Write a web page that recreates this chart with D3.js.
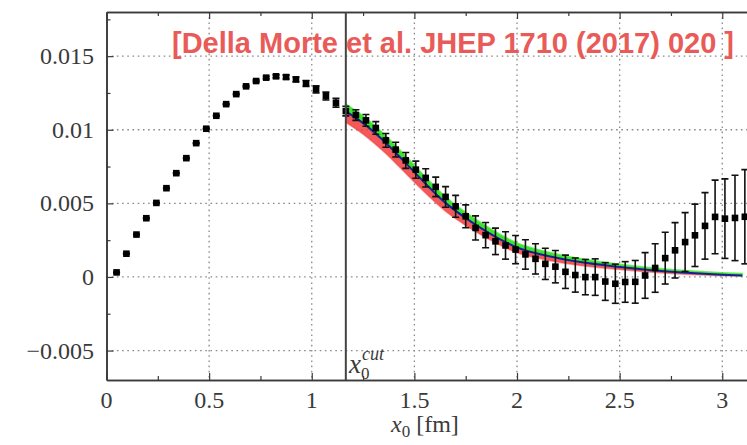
<!DOCTYPE html>
<html>
<head>
<meta charset="utf-8">
<script src="https://cdn.jsdelivr.net/npm/d3@7"></script>
<style>
    body { margin: 0; background: #fff; }
    svg { display: block; }
</style>
</head>
<body>
<svg width="747" height="445"></svg>
<script>
// lattice time slices x0 [fm] and correlator values
var x0 = [0.049, 0.097, 0.146, 0.194, 0.243, 0.292, 0.340, 0.389, 0.437, 0.486,
          0.535, 0.583, 0.632, 0.680, 0.729, 0.778, 0.826, 0.875, 0.923, 0.972,
          1.021, 1.069, 1.118, 1.166, 1.215, 1.264, 1.312, 1.361, 1.409, 1.458,
          1.507, 1.555, 1.604, 1.652, 1.701, 1.750, 1.798, 1.847, 1.895, 1.944,
          1.993, 2.041, 2.090, 2.138, 2.187, 2.236, 2.284, 2.333, 2.381, 2.430,
          2.479, 2.527, 2.576, 2.624, 2.673, 2.722, 2.770, 2.819, 2.867, 2.916,
          2.965, 3.013, 3.062, 3.110];
var corr = [0.00031, 0.00158, 0.00288, 0.00399, 0.00503, 0.00603, 0.00705, 0.00807, 0.00909, 0.01007,
            0.01095, 0.01174, 0.01242, 0.01295, 0.01331, 0.01354, 0.01363, 0.01358, 0.01342, 0.01315,
            0.01274, 0.01229, 0.01184, 0.01127, 0.01100, 0.01064, 0.01012, 0.00928, 0.00865, 0.00792,
            0.00729, 0.00673, 0.00612, 0.00544, 0.00480, 0.00412, 0.00333, 0.00284, 0.00242, 0.00214,
            0.00186, 0.00153, 0.00123, 0.00089, 0.00070, 0.00035, 0.00013, -0.00001, -0.00001, -0.00031,
            -0.00046, -0.00034, -0.00033, 0.00010, 0.00061, 0.00128, 0.00181, 0.00237, 0.00283, 0.00347,
            0.00408, 0.00396, 0.00401, 0.00409];
var corrErr = [0.00003, 0.00003, 0.00003, 0.00003, 0.00003, 0.00003, 0.00003, 0.00003, 0.00003, 0.00003,
               0.00003, 0.00003, 0.00004, 0.00005, 0.00006, 0.00008, 0.00010, 0.00013, 0.00016, 0.00020,
               0.00024, 0.00027, 0.00030, 0.00033, 0.00036, 0.00040, 0.00043, 0.00047, 0.00050, 0.00054,
               0.00058, 0.00062, 0.00066, 0.00070, 0.00074, 0.00078, 0.00082, 0.00086, 0.00090, 0.00093,
               0.00096, 0.00100, 0.00103, 0.00106, 0.00110, 0.00113, 0.00116, 0.00120, 0.00124, 0.00128,
               0.00133, 0.00138, 0.00145, 0.00155, 0.00165, 0.00176, 0.00188, 0.00200, 0.00212, 0.00226,
               0.00250, 0.00270, 0.00290, 0.00320];

// fit curve past the cut: central value, upper (green) and lower (red) edges
var fitX   = [1.166, 1.25, 1.35, 1.45, 1.55, 1.65, 1.75, 1.85, 2.00, 2.15, 2.30, 2.50, 2.75, 3.00, 3.097];
var fitMid = [0.01125, 0.01045, 0.00925, 0.00785, 0.00640, 0.00505, 0.00400, 0.00310, 0.00200, 0.00142, 0.00103, 0.00068, 0.00035, 0.00015, 0.00010];
var fitUp  = [0.01172, 0.01092, 0.00972, 0.00830, 0.00683, 0.00545, 0.00437, 0.00344, 0.00230, 0.00168, 0.00125, 0.00085, 0.00049, 0.00027, 0.00022];
var fitLow = [0.01050, 0.00970, 0.00852, 0.00715, 0.00575, 0.00448, 0.00350, 0.00266, 0.00165, 0.00114, 0.00080, 0.00051, 0.00024, 0.00009, 0.00006];

var x0Cut = 1.166;

var xMajor = [0, 0.5, 1, 1.5, 2, 2.5, 3];
var xMinor = [0.25, 0.75, 1.25, 1.75, 2.25, 2.75, 3.25];
var yMajor = [-0.005, 0, 0.005, 0.01, 0.015];
var yMinor = [-0.0025, 0.0025, 0.0075, 0.0125, 0.0175];

var svg = d3.select('svg');
var pLeft = 106.5, pTop = 12, pBottom = 380, pRight = 790;

var x = d3.scaleLinear().domain([0, 3.33]).range([pLeft, pRight]);
var y = d3.scaleLinear().domain([-0.007, 0.018]).range([pBottom, pTop]);

var serif = '"Liberation Serif", "DejaVu Serif", serif';
var ink = '#3a3a3a';

svg.append('rect').attr('width', 747).attr('height', 445).attr('fill', '#fff');

svg.append('defs').append('clipPath').attr('id', 'plot')
    .append('rect')
    .attr('x', pLeft).attr('y', pTop)
    .attr('width', pRight - pLeft).attr('height', pBottom - pTop);

// dotted grid
var grid = svg.append('g')
    .attr('stroke', '#8a8a8a')
    .attr('stroke-width', 1.3)
    .attr('stroke-dasharray', '1.6,3.6');
grid.selectAll('.gx').data(xMajor.slice(1)).enter().append('line')
    .attr('x1', function(d) { return x(d); }).attr('x2', function(d) { return x(d); })
    .attr('y1', pTop).attr('y2', pBottom);
grid.selectAll('.gy').data(yMajor).enter().append('line')
    .attr('x1', pLeft).attr('x2', pRight)
    .attr('y1', function(d) { return y(d); }).attr('y2', function(d) { return y(d); });

// axes with inward ticks
function tickAxis(axis, vals, size, tx, ty) {
    var g = svg.append('g')
        .attr('transform', 'translate(' + tx + ',' + ty + ')')
        .call(axis.tickValues(vals).tickSize(size).tickSizeOuter(0).tickFormat(''));
    g.selectAll('line').attr('stroke', ink).attr('stroke-width', 1.2);
    g.select('.domain').attr('stroke', ink).attr('stroke-width', 1.6);
    return g;
}
tickAxis(d3.axisBottom(x), xMajor, -7, 0, pBottom);
tickAxis(d3.axisBottom(x), xMinor, -4, 0, pBottom);
tickAxis(d3.axisTop(x), xMajor, -7, 0, pTop);
tickAxis(d3.axisTop(x), xMinor, -4, 0, pTop);
tickAxis(d3.axisLeft(y), yMajor, -7, pLeft, 0);
tickAxis(d3.axisLeft(y), yMinor, -4, pLeft, 0);

// tick labels
svg.selectAll('.xl').data(xMajor).enter().append('text')
    .attr('x', function(d) { return x(d); })
    .attr('y', 408)
    .attr('text-anchor', 'middle')
    .style('font-family', serif).style('font-size', '24px').attr('fill', ink)
    .text(function(d) { return d; });
svg.selectAll('.yl').data(yMajor).enter().append('text')
    .attr('x', 94)
    .attr('y', function(d) { return y(d) + 8; })
    .attr('text-anchor', 'end')
    .style('font-family', serif).style('font-size', '24px').attr('fill', ink)
    .text(function(d) { return d < 0 ? '\u2212' + (-d) : d; });

// axis title
var title = svg.append('text')
    .attr('x', 391).attr('y', 432)
    .style('font-family', serif).style('font-size', '24px').attr('fill', ink);
title.append('tspan').style('font-style', 'italic').text('x');
title.append('tspan').attr('dy', 5).style('font-size', '17px').text('0');
title.append('tspan').attr('dy', -5).attr('dx', 6).text('[fm]');

// fit bands and central line
var plot = svg.append('g').attr('clip-path', 'url(#plot)');
var fit = fitX.map(function(d, i) {
    return { x: d, mid: fitMid[i], up: fitUp[i], low: fitLow[i] };
});
var redBand = d3.area().curve(d3.curveMonotoneX)
    .x(function(d) { return x(d.x); })
    .y0(function(d) { return y(d.low); })
    .y1(function(d) { return y(d.mid); });
var greenBand = d3.area().curve(d3.curveMonotoneX)
    .x(function(d) { return x(d.x); })
    .y0(function(d) { return y(d.mid); })
    .y1(function(d) { return y(d.up); });
var midLine = d3.line().curve(d3.curveMonotoneX)
    .x(function(d) { return x(d.x); })
    .y(function(d) { return y(d.mid); });

plot.append('path').datum(fit).attr('d', redBand)
    .attr('fill', '#f23c3c').attr('fill-opacity', 0.85)
    .attr('stroke', '#f23c3c').attr('stroke-opacity', 0.5).attr('stroke-width', 1.5);
plot.append('path').datum(fit).attr('d', greenBand)
    .attr('fill', '#3ae52a')
    .attr('stroke', '#3ae52a').attr('stroke-opacity', 0.7).attr('stroke-width', 2);
plot.append('path').datum(fit).attr('d', midLine)
    .attr('fill', 'none').attr('stroke', '#1c1c9a').attr('stroke-width', 2);

// cut line
svg.append('line')
    .attr('x1', x(x0Cut)).attr('x2', x(x0Cut))
    .attr('y1', pTop).attr('y2', pBottom)
    .attr('stroke', '#444').attr('stroke-width', 2);

// data points with error bars
var pts = x0.map(function(d, i) { return { x: d, v: corr[i], e: corrErr[i] }; });
var pg = plot.selectAll('.pt').data(pts).enter().append('g')
    .attr('stroke', '#111').attr('stroke-width', 1.6);
pg.append('line')
    .attr('x1', function(d) { return x(d.x); }).attr('x2', function(d) { return x(d.x); })
    .attr('y1', function(d) { return y(d.v - d.e); }).attr('y2', function(d) { return y(d.v + d.e); });
pg.append('line')
    .attr('x1', function(d) { return x(d.x) - 3.5; }).attr('x2', function(d) { return x(d.x) + 3.5; })
    .attr('y1', function(d) { return y(d.v + d.e); }).attr('y2', function(d) { return y(d.v + d.e); });
pg.append('line')
    .attr('x1', function(d) { return x(d.x) - 3.5; }).attr('x2', function(d) { return x(d.x) + 3.5; })
    .attr('y1', function(d) { return y(d.v - d.e); }).attr('y2', function(d) { return y(d.v - d.e); });
pg.append('rect')
    .attr('x', function(d) { return x(d.x) - 3.3; })
    .attr('y', function(d) { return y(d.v) - 3.3; })
    .attr('width', 6.6).attr('height', 6.6)
    .attr('stroke', 'none').attr('fill', '#000');

// x0^cut label
svg.append('text').attr('x', 349).attr('y', 373)
    .style('font-family', serif).style('font-size', '27px').style('font-style', 'italic')
    .attr('fill', ink).text('x');
svg.append('text').attr('x', 362).attr('y', 360)
    .style('font-family', serif).style('font-size', '18px').style('font-style', 'italic')
    .attr('fill', ink).text('cut');
svg.append('text').attr('x', 361).attr('y', 379)
    .style('font-family', serif).style('font-size', '17px')
    .attr('fill', ink).text('0');

// reference
svg.append('text').attr('x', 172).attr('y', 53)
    .style('font-family', '"Liberation Sans", Arial, sans-serif')
    .style('font-size', '29px').style('font-weight', 'bold')
    .attr('fill', '#e95b58')
    .text('[Della Morte et al. JHEP 1710 (2017) 020 ]');
</script>
</body>
</html>
